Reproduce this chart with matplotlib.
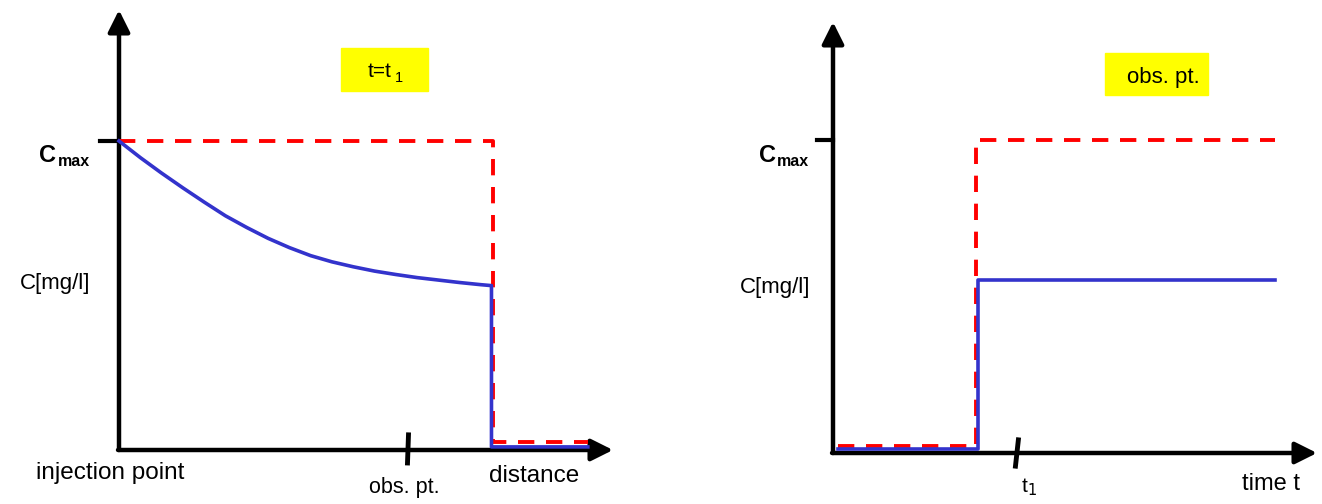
import matplotlib.pyplot as plt
from matplotlib.patches import Rectangle

plt.rcParams['font.family'] = ['Liberation Sans', 'DejaVu Sans']

W, H = 1322, 504

# left panel: concentration along distance at t = t1 (C / Cmax)
dist_curve = [0.0, 0.434, 0.854, 1.296, 1.727, 2.154, 2.587, 3.018, 3.449, 3.879,
              4.310, 4.741, 5.172, 5.601, 6.032, 6.463, 6.895, 7.326, 7.54]
conc_curve = [1.0, 0.946, 0.897, 0.848, 0.802, 0.758, 0.720, 0.685, 0.655, 0.629,
              0.609, 0.593, 0.579, 0.568, 0.558, 0.550, 0.542, 0.535, 0.532]
dist_front = 7.54
dist_end = 9.49
blue_low_left = 0.01
red_x_left = [0.0, 7.57, 7.57, 9.49]
red_y_left = [1.0, 1.0, 0.026, 0.026]
obs_pt_dist = 5.85

# right panel: concentration at obs. pt. over time
time_blue = [0.1, 3.0, 3.0, 9.13]
conc_blue = [0.013, 0.013, 0.553, 0.553]
time_red = [0.1, 2.95, 2.95, 9.13]
conc_red = [0.022, 0.022, 1.0, 1.0]
t1 = 3.8

RED = '#ff0000'
BLUE = '#3333cc'


def px(x, y):
    # pixel (from top-left) -> figure fraction
    return x / W, 1 - y / H


def make_axes(fig, left, right, bottom, top, ytop):
    ax = fig.add_axes([left / W, 1 - bottom / H, (right - left) / W, (bottom - top) / H])
    ax.set_xlim(0, 10)
    ax.set_ylim(0, ytop)
    ax.axis('off')
    arrow = dict(arrowstyle='-|>,head_length=0.6,head_width=0.3', lw=3.2, color='k',
                 mutation_scale=22, shrinkA=0, shrinkB=0)
    ax.annotate('', xy=(0, ytop), xytext=(0, 0), arrowprops=arrow, annotation_clip=False)
    ax.annotate('', xy=(10, 0), xytext=(-0.02, 0), arrowprops=arrow, annotation_clip=False)
    return ax


fig = plt.figure(figsize=(W / 100, H / 100), dpi=100)

# ---- left panel ----
axl = make_axes(fig, 119, 613, 450, 10, 440 / 309)
axl.plot(red_x_left, red_y_left, color=RED, lw=2.8, ls=(0, (4.2, 3.0)), clip_on=False, zorder=3)
axl.plot(dist_curve + [dist_front, dist_end],
         conc_curve + [blue_low_left, blue_low_left],
         color=BLUE, lw=2.6, clip_on=False, zorder=4, solid_joinstyle='round')
axl.plot([-0.38, 0], [1, 1], color='k', lw=3, clip_on=False)
axl.plot([obs_pt_dist + 0.01, obs_pt_dist - 0.01], [0.049, -0.042], color='k', lw=3.5, clip_on=False)

# ---- right panel ----
axr = make_axes(fig, 833, 1317, 453, 22, 431 / 313)
axr.plot(time_red, conc_red, color=RED, lw=2.8, ls=(0, (4.2, 3.0)), clip_on=False, zorder=3)
axr.plot(time_blue, conc_blue, color=BLUE, lw=2.6, clip_on=False, zorder=4)
axr.plot([-0.34, 0], [1, 1], color='k', lw=3, clip_on=False)
axr.plot([t1 + 0.03, t1 - 0.03], [0.042, -0.042], color='k', lw=3.5, clip_on=False)

# ---- labels ----
def label(x, y, s, size, **kw):
    fig.text(*px(x, y), s, fontsize=size, ha='center', va='center', **kw)

label(110, 473, 'injection point', 17.5)
label(404, 488, 'obs. pt.', 15.5)
label(534, 476, 'distance', 17.5)
label(55, 284, 'C[mg/l]', 16)
label(48, 155, 'C', 17, fontweight='bold')
label(74, 161, 'max', 11.5, fontweight='bold')

label(775, 288, 'C[mg/l]', 16)
label(767, 155, 'C', 17, fontweight='bold')
label(793, 161, 'max', 11.5, fontweight='bold')
label(1029, 487, r't$_1$', 15)
label(1271, 484, 'time t', 17)

# yellow boxes
for (x0, y0, x1, y1) in [(341, 48, 428, 91), (1105, 53, 1208, 95)]:
    fig.patches.append(Rectangle(px(x0, y1), (x1 - x0) / W, (y1 - y0) / H,
                                 transform=fig.transFigure, color='#ffff00', zorder=0))
label(380, 72, 't=t', 15)
label(399, 78, '1', 10.5)
label(1163, 77, 'obs. pt.', 16)

fig.savefig('out.png', dpi=100)
